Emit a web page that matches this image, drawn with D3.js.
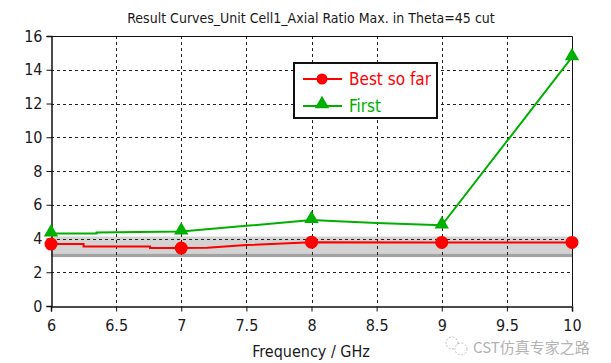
<!DOCTYPE html>
<html>
<head>
<meta charset="utf-8">
<script src="https://cdn.jsdelivr.net/npm/d3@7"></script>
<style>
  body { margin: 0; background: #fff; }
  svg text { font-family: Tahoma, "DejaVu Sans Condensed", "DejaVu Sans", sans-serif; }
</style>
</head>
<body>
<div id="chart"></div>
<script>
// data
var bestFreq = [6, 6.25, 6.25, 6.76, 6.76, 7, 7.2, 7.5, 8, 9, 10];
var bestVals = [3.67, 3.67, 3.53, 3.53, 3.43, 3.43, 3.45, 3.61, 3.78, 3.77, 3.77];
var bestMarkFreq = [6, 7, 8, 9, 10];

var firstFreq = [6, 6.35, 6.35, 7, 7.5, 8, 8.2, 8.5, 9, 10];
var firstVals = [4.3, 4.3, 4.36, 4.42, 4.75, 5.1, 5.02, 4.92, 4.78, 14.75];
var firstMarkFreq = [6, 7, 8, 9, 10];

var xTicks = [6, 6.5, 7, 7.5, 8, 8.5, 9, 9.5, 10];
var yTicks = [0, 2, 4, 6, 8, 10, 12, 14, 16];
var band = [2.9, 3.1, 4.12];   // dark stripe bottom, stripe top, light band top

var width = 611, height = 363;
var margin = {left: 51, right: 39, top: 36, bottom: 57};

var svg = d3.select("#chart").append("svg")
  .attr("width", width)
  .attr("height", height);

var x = d3.scaleLinear().domain([6, 10]).range([margin.left, width - margin.right]);
var y = d3.scaleLinear().domain([0, 16]).range([height - margin.bottom, margin.top]);

// title
svg.append("text")
  .attr("x", 311).attr("y", 23)
  .attr("text-anchor", "middle")
  .style("font-size", "14px")
  .style("fill", "#1a1a1a")
  .text("Result Curves_Unit Cell1_Axial Ratio Max. in Theta=45 cut");

// gray band
svg.append("rect")
  .attr("x", x(6)).attr("width", x(10) - x(6))
  .attr("y", y(band[2])).attr("height", y(band[1]) - y(band[2]))
  .style("fill", "#d3d3d3");
svg.append("rect")
  .attr("x", x(6)).attr("width", x(10) - x(6))
  .attr("y", y(band[1])).attr("height", y(band[0]) - y(band[1]))
  .style("fill", "#a3a3a3");

// grid
svg.append("g").selectAll("line").data(xTicks.slice(1, -1)).enter().append("line")
  .attr("x1", d => Math.round(x(d)) + 0.5).attr("x2", d => Math.round(x(d)) + 0.5)
  .attr("y1", y(16)).attr("y2", y(0))
  .style("stroke", "#222").style("stroke-dasharray", "3,3");
svg.append("g").selectAll("line").data(yTicks.slice(1, -1)).enter().append("line")
  .attr("x1", x(6)).attr("x2", x(10))
  .attr("y1", d => Math.round(y(d)) + 0.5).attr("y2", d => Math.round(y(d)) + 0.5)
  .style("stroke", "#222").style("stroke-dasharray", "3,3");

// frame top/right
svg.append("path")
  .attr("d", "M" + x(6) + "," + (y(16) + 0.5) + "H" + (x(10) + 0.5) + "V" + y(0))
  .style("fill", "none").style("stroke", "#111");

// axes
var xAxis = svg.append("g")
  .attr("transform", "translate(0," + (Math.round(y(0)) + 0.5) + ")")
  .call(d3.axisBottom(x).tickValues(xTicks).tickSize(5).tickPadding(8).tickFormat(d3.format("")));
var yAxis = svg.append("g")
  .attr("transform", "translate(" + (Math.round(x(6)) + 0.5) + ",0)")
  .call(d3.axisLeft(y).tickValues(yTicks).tickSize(5).tickPadding(4));
[xAxis, yAxis].forEach(function (a) {
  a.select(".domain").style("stroke", "#111").style("stroke-width", 1.5);
  a.selectAll(".tick line").style("stroke", "#111");
  a.selectAll("text").style("font-size", "16px").style("fill", "#1a1a1a")
    .style("font-family", 'Tahoma, "DejaVu Sans Condensed", "DejaVu Sans", sans-serif');
});

svg.append("text")
  .attr("x", 311).attr("y", 357)
  .attr("text-anchor", "middle")
  .style("font-size", "16px")
  .style("fill", "#1a1a1a")
  .text("Frequency / GHz");

// curves
var line = d3.line().x(d => x(d[0])).y(d => y(d[1]));
var bestData = bestFreq.map((f, i) => [f, bestVals[i]]);
var firstData = firstFreq.map((f, i) => [f, firstVals[i]]);
function valAt(freqs, vals, f) { return vals[freqs.lastIndexOf(f)]; }

svg.append("path").datum(bestData).attr("d", line)
  .style("fill", "none").style("stroke", "#ff0000").style("stroke-width", 2);
svg.append("path").datum(firstData).attr("d", line)
  .style("fill", "none").style("stroke", "#00b000").style("stroke-width", 2);

var tri = d3.symbol().type(d3.symbolTriangle).size(90);
svg.append("g").selectAll("path").data(firstMarkFreq).enter().append("path")
  .attr("d", tri)
  .attr("transform", d => "translate(" + x(d) + "," + (y(valAt(firstFreq, firstVals, d)) - 1) + ")")
  .style("fill", "#00b000");
svg.append("g").selectAll("circle").data(bestMarkFreq).enter().append("circle")
  .attr("cx", d => x(d)).attr("cy", d => y(valAt(bestFreq, bestVals, d)))
  .attr("r", 6.5)
  .style("fill", "#ff0000");

// legend
var lg = svg.append("g").attr("transform", "translate(294,63)");
lg.append("rect").attr("width", 143).attr("height", 55)
  .style("fill", "#fff").style("stroke", "#111").style("stroke-width", 2);
lg.append("line").attr("x1", 9).attr("x2", 48).attr("y1", 16).attr("y2", 16)
  .style("stroke", "#ff0000").style("stroke-width", 2);
lg.append("circle").attr("cx", 28).attr("cy", 16).attr("r", 5.5).style("fill", "#ff0000");
lg.append("text").attr("x", 55).attr("y", 22).style("font-size", "17px").style("fill", "#ff0000")
  .text("Best so far");
lg.append("line").attr("x1", 9).attr("x2", 48).attr("y1", 43).attr("y2", 43)
  .style("stroke", "#00b000").style("stroke-width", 2);
lg.append("path").attr("d", tri).attr("transform", "translate(28,41)").style("fill", "#00b000");
lg.append("text").attr("x", 55).attr("y", 49).style("font-size", "17px").style("fill", "#00b000")
  .text("First");

// watermark (nudged below the tick labels so the texts don't collide)
var wm = svg.append("g").style("opacity", 0.75);
wm.append("circle").attr("cx", 452).attr("cy", 343).attr("r", 6)
  .style("fill", "none").style("stroke", "#aaa").style("stroke-dasharray", "2,1.5");
wm.append("circle").attr("cx", 461).attr("cy", 349).attr("r", 6)
  .style("fill", "#fff").style("stroke", "#aaa").style("stroke-dasharray", "2,1.5");
wm.append("text").attr("x", 473).attr("y", 353)
  .style("font-size", "15px").style("fill", "#999")
  .style("font-family", '"Noto Sans CJK SC", sans-serif')
  .text("CST仿真专家之路");
</script>
</body>
</html>
